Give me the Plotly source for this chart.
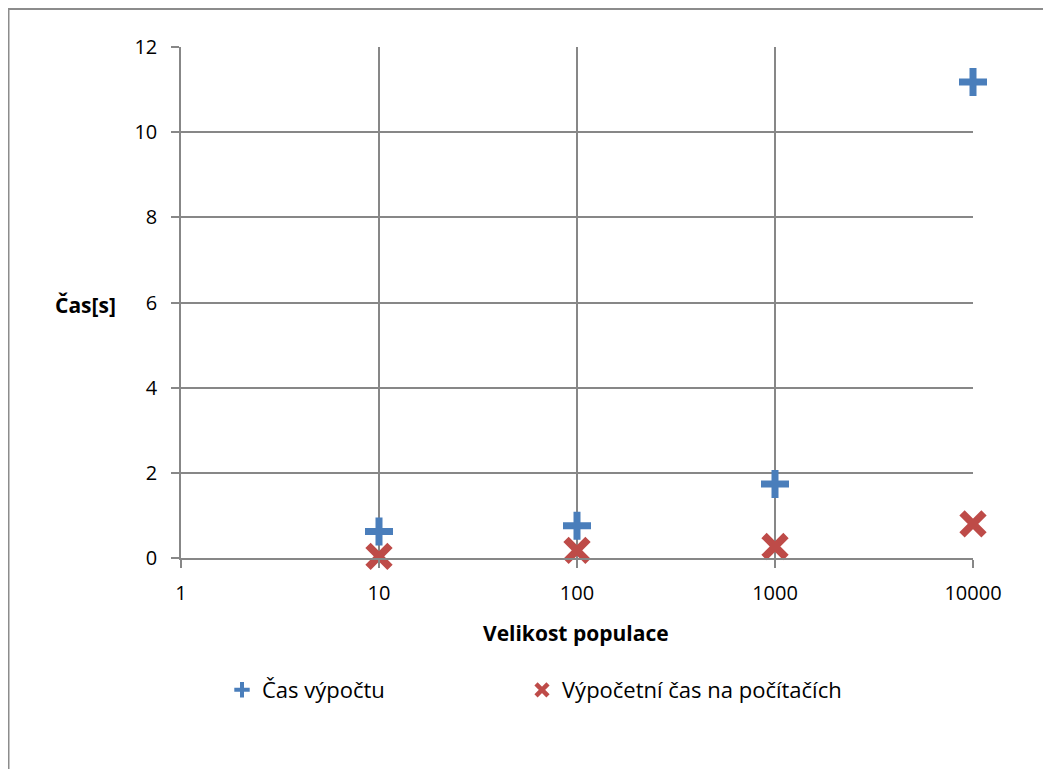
import plotly.graph_objects as go

populace = [10, 100, 1000, 10000]
cas_vypoctu = [0.62, 0.76, 1.74, 11.18]
cas_na_pocitacich = [0.04, 0.18, 0.27, 0.80]

x_ticks = [1, 10, 100, 1000, 10000]
y_ticks = [0, 2, 4, 6, 8, 10, 12]

font_family = "Open Sans, Liberation Sans, sans-serif"
grid_col = "#878787"
blue = "#4A7EBB"
red = "#BE4B48"

OFF = 8  # page body margin
W, H = 1051 - OFF, 769 - OFF
L, R, T, B = 181 - OFF, 973 - OFF, 47 - OFF, 558 - OFF
pw, ph = R - L, B - T


def px(sx):
    return (sx - OFF - L) / pw


def py(sy):
    return (B - (sy - OFF)) / ph


fig = go.Figure()
fig.add_trace(go.Scatter(
    x=populace, y=cas_vypoctu, mode="markers", name="Čas výpočtu", showlegend=False,
    cliponaxis=False,
    marker=dict(symbol="cross-thin", size=20, color=blue, line=dict(color=blue, width=7)),
))
fig.add_trace(go.Scatter(
    x=populace, y=cas_na_pocitacich, mode="markers", name="Výpočetní čas na počítačích",
    showlegend=False, cliponaxis=False,
    marker=dict(symbol="x-thin", size=22, color=red, line=dict(color=red, width=7.5)),
))
# legend entries (smaller legend symbols as in the reference)
fig.add_trace(go.Scatter(
    x=[None], y=[None], mode="markers", name="Čas výpočtu", legend="legend",
    marker=dict(symbol="cross-thin", size=11, color=blue, line=dict(color=blue, width=4)),
))
fig.add_trace(go.Scatter(
    x=[None], y=[None], mode="markers", name="Výpočetní čas na počítačích", legend="legend2",
    marker=dict(symbol="x-thin", size=12, color=red, line=dict(color=red, width=4.5)),
))

fig.add_shape(type="rect", xref="paper", yref="paper",
              x0=px(OFF + 0.5), x1=px(1070), y0=py(800), y1=py(OFF + 1),
              line=dict(color="#8C8C8C", width=2), fillcolor="rgba(0,0,0,0)", layer="below")

leg_common = dict(orientation="h", xanchor="left", yanchor="middle",
                  font=dict(size=22), itemwidth=30, bgcolor="rgba(0,0,0,0)")

fig.update_layout(
    width=W, height=H,
    margin=dict(l=L, r=W - R, t=T, b=H - B),
    paper_bgcolor="white", plot_bgcolor="white",
    font=dict(family=font_family, size=20, color="#000000"),
    showlegend=True,
    legend=dict(x=px(222), y=py(690), **leg_common),
    legend2=dict(x=px(522), y=py(690), **leg_common),
    xaxis=dict(type="log", range=[0, 4], tickvals=x_ticks, ticktext=[str(v) for v in x_ticks],
               showgrid=True, gridcolor=grid_col, gridwidth=1.5,
               showline=True, linecolor=grid_col, linewidth=1.5, mirror=False,
               ticks="outside", ticklen=8, tickcolor=grid_col, tickwidth=1.5,
               ticklabelstandoff=8,
               zeroline=False, tickfont=dict(size=20)),
    yaxis=dict(range=[0, 12], tickvals=y_ticks, showgrid=True, gridcolor=grid_col, gridwidth=1.5,
               showline=True, linecolor=grid_col, linewidth=1.5,
               ticks="outside", ticklen=8, tickcolor=grid_col, tickwidth=1.5,
               ticklabelstandoff=10,
               zeroline=False, tickfont=dict(size=20)),
    annotations=[
        dict(text="<b>Velikost populace</b>", xref="paper", yref="paper",
             x=px(576), y=py(633), xanchor="center", yanchor="middle",
             showarrow=False, font=dict(size=21)),
        dict(text="<b>Čas[s]</b>", xref="paper", yref="paper",
             x=px(85), y=py(305), xanchor="center", yanchor="middle",
             showarrow=False, font=dict(size=21)),
    ],
)

fig.write_html("out.html")
